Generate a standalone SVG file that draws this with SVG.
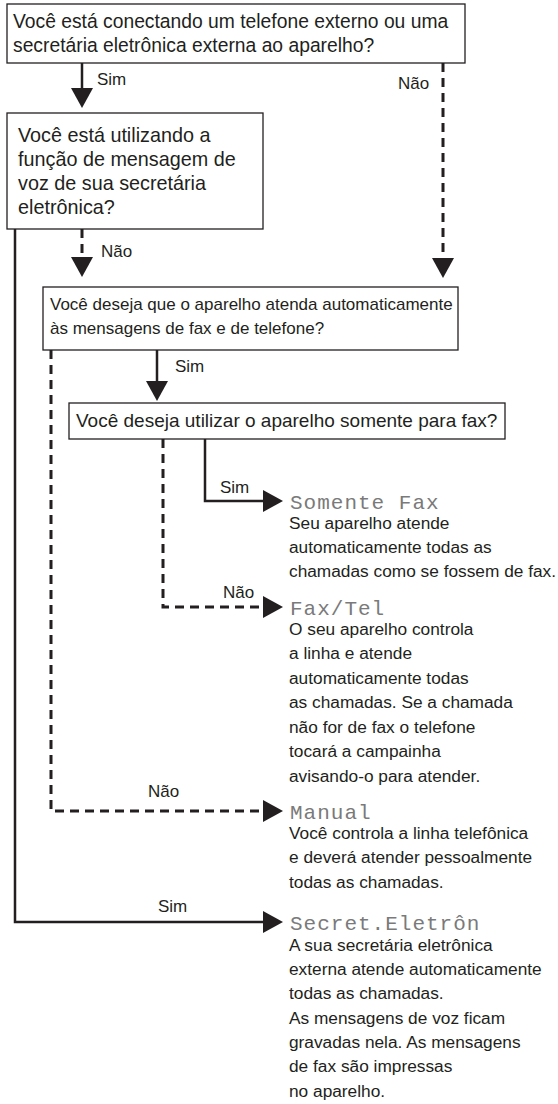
<svg xmlns="http://www.w3.org/2000/svg" width="558" height="1104" viewBox="0 0 558 1104">
<style>
.box{fill:#fff;stroke:#231f20;stroke-width:1.3}
.t{font-family:"Liberation Sans",Arial,sans-serif;fill:#231f20}
.q{font-size:19.3px}
.q2{font-size:19.8px}
.q3{font-size:17px}
.q4{font-size:19px}
.d{font-size:17.3px}
.lbl{font-size:17px}
.lcd{font-family:"Liberation Mono","DejaVu Sans Mono",monospace;font-size:21px;fill:#7a7a7a;letter-spacing:1px}
.solid{fill:none;stroke:#231f20;stroke-width:2.5}
.dash{fill:none;stroke:#231f20;stroke-width:3;stroke-dasharray:9 6}
</style>
<defs>
<marker id="ah" markerUnits="userSpaceOnUse" markerWidth="20" markerHeight="22" viewBox="0 0 20 22" refX="0" refY="11" orient="auto">
<path d="M0,0 L20,11 L0,22 Z" fill="#231f20"/>
</marker>
</defs>
<rect width="558" height="1104" fill="#fff"/>

<g id="connectors">
<line class="solid" x1="82" y1="63" x2="82" y2="88" marker-end="url(#ah)"/>
<text class="t lbl" x="97" y="85">Sim</text>
<line class="dash" x1="443" y1="63" x2="443" y2="258" marker-end="url(#ah)"/>
<text class="t lbl" x="398" y="89">Não</text>
<line class="dash" x1="82" y1="229" x2="82" y2="257" marker-end="url(#ah)"/>
<text class="t lbl" x="101" y="257">Não</text>
<path class="solid" d="M15,229 V922 H263" marker-end="url(#ah)"/>
<text class="t lbl" x="158" y="912">Sim</text>
<line class="solid" x1="157" y1="350" x2="157" y2="381" marker-end="url(#ah)"/>
<text class="t lbl" x="175" y="372">Sim</text>
<path class="dash" d="M51,350 V811 H263" marker-end="url(#ah)"/>
<text class="t lbl" x="148" y="797">Não</text>
<path class="solid" d="M205,439 V501 H263" marker-end="url(#ah)"/>
<text class="t lbl" x="220" y="493">Sim</text>
<path class="dash" d="M163,439 V607 H263" marker-end="url(#ah)"/>
<text class="t lbl" x="223" y="598">Não</text>
</g>

<g id="q1">
<rect class="box" x="7" y="4" width="458" height="59"/>
<text class="t q" x="13" y="28">Você está conectando um telefone externo ou uma</text>
<text class="t q" x="13" y="52">secretária eletrônica externa ao aparelho?</text>
</g>

<g id="q2">
<rect class="box" x="7" y="113" width="256" height="116"/>
<text class="t q2" x="18" y="142">Você está utilizando a</text>
<text class="t q2" x="18" y="166">função de mensagem de</text>
<text class="t q2" x="18" y="190">voz de sua secretária</text>
<text class="t q2" x="18" y="214">eletrônica?</text>
</g>

<g id="q3">
<rect class="box" x="43" y="287" width="415" height="63"/>
<text class="t q3" x="50" y="310">Você deseja que o aparelho atenda automaticamente</text>
<text class="t q3" x="50" y="334">às mensagens de fax e de telefone?</text>
</g>

<g id="q4">
<rect class="box" x="69" y="403" width="436" height="36"/>
<text class="t q4" x="76" y="427">Você deseja utilizar o aparelho somente para fax?</text>
</g>

<g id="somente-fax">
<text class="lcd" x="290" y="509">Somente Fax</text>
<text class="t d" x="289" y="529">Seu aparelho atende</text>
<text class="t d" x="289" y="553">automaticamente todas as</text>
<text class="t d" x="289" y="577">chamadas como se fossem de fax.</text>
</g>

<g id="fax-tel">
<text class="lcd" x="290" y="615">Fax/Tel</text>
<text class="t d" x="289" y="635">O seu aparelho controla</text>
<text class="t d" x="289" y="659">a linha e atende</text>
<text class="t d" x="289" y="684">automaticamente todas</text>
<text class="t d" x="289" y="708">as chamadas. Se a chamada</text>
<text class="t d" x="289" y="733">não for de fax o telefone</text>
<text class="t d" x="289" y="757">tocará a campainha</text>
<text class="t d" x="289" y="782">avisando-o para atender.</text>
</g>

<g id="manual">
<text class="lcd" x="290" y="819">Manual</text>
<text class="t d" x="289" y="839">Você controla a linha telefônica</text>
<text class="t d" x="289" y="863">e deverá atender pessoalmente</text>
<text class="t d" x="289" y="888">todas as chamadas.</text>
</g>

<g id="secret-eletron">
<text class="lcd" x="290" y="930">Secret.Eletrôn</text>
<text class="t d" x="289" y="951">A sua secretária eletrônica</text>
<text class="t d" x="289" y="975">externa atende automaticamente</text>
<text class="t d" x="289" y="999">todas as chamadas.</text>
<text class="t d" x="289" y="1024">As mensagens de voz ficam</text>
<text class="t d" x="289" y="1048">gravadas nela. As mensagens</text>
<text class="t d" x="289" y="1072">de fax são impressas</text>
<text class="t d" x="289" y="1097">no aparelho.</text>
</g>
</svg>
